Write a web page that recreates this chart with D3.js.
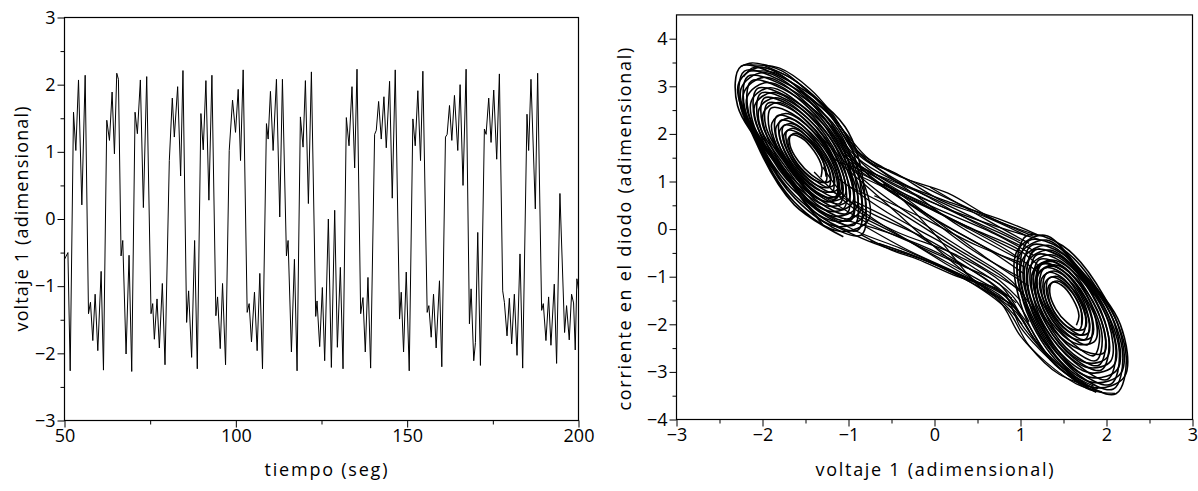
<!DOCTYPE html>
<html>
<head>
<meta charset="utf-8">
<script src="https://cdn.jsdelivr.net/npm/d3@7"></script>
<style>
  body { margin: 0; background: #fff; }
  text { font-family: "Open Sans", "Noto Sans", sans-serif; fill: #000; }
</style>
</head>
<body>
<script>
// ---- data: left panel, voltage 1 vs time (turning points)
var timeSec = [50.0, 51.0, 51.66, 52.63, 53.31, 54.09, 55.06, 56.03, 57.0, 57.58, 58.26, 58.94, 59.72, 60.69, 61.37,
  62.34, 63.12, 63.89, 64.57, 65.25, 65.74, 66.51, 67.0, 67.97, 68.84, 69.62, 70.59, 71.27, 72.14, 73.02, 73.99,
  75.25, 75.74, 76.22, 77.0, 77.68, 78.55, 79.33, 80.59, 81.46, 82.05, 83.02, 83.89, 84.57, 85.64, 86.22, 87.1,
  87.97, 88.75, 89.81, 90.49, 91.27, 92.14, 93.02, 94.18, 94.67, 95.45, 96.12, 97.0, 98.07, 99.04, 99.91, 100.69,
  101.37, 102.14, 103.31, 103.89, 104.57, 105.44, 106.22, 107.0, 107.78, 108.94, 109.43, 110.1, 110.88, 111.85,
  112.82, 113.6, 114.77, 115.25, 116.22, 117.1, 117.87, 118.84, 119.62, 120.3, 121.17, 122.05, 123.31, 123.7,
  124.47, 125.25, 125.93, 127.0, 127.88, 128.85, 129.63, 130.5, 131.28, 132.25, 133.03, 133.9, 134.68, 135.36,
  136.43, 137.1, 137.78, 138.56, 139.34, 140.5, 140.99, 141.67, 142.44, 143.22, 143.9, 144.87, 145.65, 146.52,
  147.78, 148.27, 148.95, 149.73, 150.6, 151.67, 152.35, 153.12, 153.9, 154.58, 155.84, 156.33, 157.01, 157.69,
  158.46, 159.43, 160.11, 161.18, 161.67, 162.35, 163.03, 163.8, 164.77, 165.45, 166.3, 167.2, 168.17, 168.66,
  169.43, 169.92, 170.6, 171.38, 172.54, 173.03, 173.8, 174.48, 175.26, 176.13, 176.91, 177.88, 178.37, 179.14,
  179.82, 180.5, 181.28, 182.06, 182.93, 183.71, 184.97, 185.45, 186.13, 187.4, 188.08, 189.24, 189.73, 190.5,
  191.28, 191.96, 192.93, 193.61, 194.58, 195.94, 196.52, 197.3, 197.98, 198.56, 199.05, 199.53, 200.0];
var volt1 = [-0.60, -0.50, -2.26, 1.59, 1.02, 2.07, 0.21, 2.14, -1.41, -1.24, -1.81, -1.12, -1.96, -0.78, -2.25,
  1.47, 1.17, 1.89, 0.97, 2.17, 2.08, -0.55, -0.32, -2.01, -0.54, -2.27, 1.59, 1.27, 2.07, 0.17, 2.12,
  -1.41, -1.26, -1.79, -1.19, -1.92, -0.96, -2.17, 0.87, 1.80, 1.22, 1.97, 0.64, 2.21, -1.54, -1.07, -2.06,
  -0.32, -2.23, 1.57, 1.03, 2.06, 0.28, 2.14, -1.44, -1.16, -1.93, -0.96, -2.17, 1.02, 1.77, 1.29, 1.93,
  0.87, 2.22, -1.39, -1.26, -1.83, -1.09, -1.96, -0.81, -2.23, 1.42, 1.19, 1.90, 1.02, 2.08,
  0.03, 2.08, -0.55, -0.32, -1.98, -0.60, -2.26, 1.52, 1.07, 2.06, 0.23, 2.19, -1.45, -1.22,
  -1.90, -1.02, -2.11, 0.00, -2.21, 0.13, -1.91, -0.72, -2.23, 1.51, 1.09, 1.97, 0.76, 2.23,
  -1.41, -1.17, -1.98, -0.87, -2.22, 1.26, 1.32, 1.75, 1.19, 1.82, 1.06, 2.05, 0.31, 2.22,
  -1.49, -1.09, -1.98, -0.79, -2.26, 1.49, 1.09, 1.91, 0.87, 2.20, -1.39, -1.29, -1.76, -1.12,
  -1.92, -0.92, -2.20, 1.22, 1.26, 1.69, 1.17, 1.84, 1.02, 2.00, 0.50, 2.23, -1.56, -1.04,
  -2.11, -1.84, -0.20, -2.18, 1.34, 1.26, 1.80, 1.14, 1.92, 0.89, 2.16, -1.07, -1.24, -1.74,
  -1.18, -1.86, -1.12, -2.03, -0.52, -2.22, 1.56, 1.02, 2.08, 0.15, 2.17, -1.36, -1.26, -1.81,
  -1.16, -1.88, -0.97, -2.15, 0.38, -1.69, -1.29, -1.80, -1.12, -1.25, -1.95, -0.89, -1.05];
var timeTicks = [50, 100, 150, 200];
var timeMinor = [75, 125, 175];
var voltTicks = [-3, -2, -1, 0, 1, 2, 3];
var voltMinor = [-2.5, -1.5, -0.5, 0.5, 1.5, 2.5];

// ---- data: right panel, voltage 1 vs diode current (orbits)
// left scroll, turn after turn, 8 points a turn
var leftScroll = [
  [-1.32,1.09],[-1.31,1.30],[-1.40,1.64],[-1.55,1.92],[-1.67,1.97],[-1.68,1.76],[-1.58,1.42],[-1.43,1.14],
  [-1.27,0.99],[-1.26,1.24],[-1.38,1.67],[-1.57,2.01],[-1.71,2.07],[-1.72,1.82],[-1.60,1.39],[-1.41,1.05],
  [-1.23,0.88],[-1.22,1.19],[-1.37,1.69],[-1.58,2.10],[-1.75,2.18],[-1.76,1.87],[-1.62,1.37],[-1.40,0.96],
  [-1.19,0.78],[-1.18,1.13],[-1.35,1.72],[-1.60,2.19],[-1.79,2.28],[-1.80,1.93],[-1.64,1.34],[-1.38,0.87],
  [-1.15,0.68],[-1.14,1.08],[-1.33,1.74],[-1.61,2.28],[-1.83,2.38],[-1.85,1.98],[-1.66,1.32],[-1.37,0.78],
  [-1.14,0.64],[-1.12,1.09],[-1.32,1.84],[-1.66,2.43],[-1.90,2.54],[-1.92,2.10],[-1.69,1.35],[-1.38,0.75],
  [-1.10,0.54],[-1.08,1.03],[-1.29,1.87],[-1.67,2.52],[-1.94,2.64],[-1.96,2.15],[-1.70,1.34],[-1.37,0.66],
  [-1.06,0.43],[-1.04,0.98],[-1.26,1.90],[-1.69,2.61],[-1.98,2.75],[-2.00,2.20],[-1.71,1.32],[-1.35,0.57],
  [-1.02,0.33],[-1.00,0.92],[-1.22,1.93],[-1.70,2.70],[-2.02,2.85],[-2.05,2.26],[-1.73,1.30],[-1.34,0.48],
  [-0.98,0.23],[-0.95,0.87],[-1.18,1.96],[-1.72,2.79],[-2.06,2.95],[-2.09,2.31],[-1.75,1.27],[-1.33,0.39],
  [-0.97,0.19],[-0.94,0.88],[-1.16,2.05],[-1.76,2.94],[-2.13,3.11],[-2.16,2.43],[-1.78,1.29],[-1.34,0.36],
  [-0.93,0.09],[-0.90,0.82],[-1.12,2.08],[-1.77,3.03],[-2.17,3.21],[-2.20,2.48],[-1.78,1.25],[-1.33,0.27],
  [-0.89,-0.02],[-0.85,0.77],[-1.08,2.12],[-1.79,3.12],[-2.21,3.32],[-2.25,2.53],[-1.77,1.22],[-1.31,0.18],
  [-0.85,-0.12],[-0.81,0.71],[-1.04,2.15],[-1.80,3.21],[-2.25,3.42],[-2.29,2.59],[-1.76,1.18],[-1.30,0.09]
];
// second pass round the left scroll (other orbits, a bit fatter)
var leftScroll2 = [
  [-1.26,1.10],[-1.30,1.44],[-1.45,1.82],[-1.62,2.01],[-1.70,1.90],[-1.66,1.56],[-1.51,1.18],[-1.34,0.99],
  [-1.21,1.02],[-1.27,1.43],[-1.45,1.89],[-1.65,2.12],[-1.75,1.98],[-1.69,1.57],[-1.51,1.11],[-1.31,0.88],
  [-1.17,0.93],[-1.23,1.42],[-1.44,1.95],[-1.68,2.22],[-1.80,2.07],[-1.73,1.58],[-1.52,1.05],[-1.28,0.78],
  [-1.12,0.85],[-1.19,1.41],[-1.44,2.02],[-1.70,2.33],[-1.84,2.15],[-1.77,1.59],[-1.52,0.98],[-1.26,0.67],
  [-1.07,0.77],[-1.16,1.40],[-1.43,2.09],[-1.73,2.43],[-1.89,2.23],[-1.80,1.61],[-1.53,0.92],[-1.23,0.57],
  [-1.09,0.80],[-1.18,1.50],[-1.49,2.27],[-1.82,2.66],[-1.99,2.44],[-1.90,1.74],[-1.60,0.97],[-1.26,0.58],
  [-1.04,0.72],[-1.14,1.49],[-1.48,2.34],[-1.85,2.76],[-2.04,2.52],[-1.94,1.75],[-1.60,0.90],[-1.23,0.48],
  [-0.99,0.64],[-1.11,1.48],[-1.47,2.40],[-1.88,2.87],[-2.09,2.60],[-1.97,1.76],[-1.61,0.84],[-1.20,0.37],
  [-0.95,0.56],[-1.07,1.47],[-1.47,2.47],[-1.91,2.97],[-2.13,2.69],[-2.01,1.77],[-1.61,0.77],[-1.17,0.27],
  [-0.90,0.47],[-1.04,1.46],[-1.46,2.54],[-1.94,3.08],[-2.18,2.77],[-2.02,1.78],[-1.62,0.70],[-1.14,0.16],
  [-0.86,0.39],[-1.00,1.44],[-1.46,2.60],[-1.97,3.19],[-2.22,2.85],[-2.04,1.80],[-1.62,0.64],[-1.12,0.05],
  [-0.81,0.31],[-0.96,1.43],[-1.45,2.67],[-1.99,3.29],[-2.25,2.95],[-2.06,1.82],[-1.63,0.57],[-1.09,-0.05],
  [-0.76,0.22],[-0.93,1.42],[-1.45,2.74],[-2.02,3.40],[-2.28,3.05],[-2.08,1.84],[-1.63,0.51],[-1.06,-0.16]
];
// right scroll, same way
var rightScroll = [
  [1.65,-2.02],[1.68,-1.82],[1.61,-1.47],[1.48,-1.18],[1.37,-1.12],[1.34,-1.33],[1.41,-1.68],[1.54,-1.96],
  [1.68,-2.12],[1.72,-1.87],[1.64,-1.44],[1.48,-1.09],[1.34,-1.02],[1.30,-1.27],[1.38,-1.70],[1.54,-2.05],
  [1.71,-2.22],[1.76,-1.92],[1.66,-1.42],[1.47,-1.00],[1.31,-0.92],[1.26,-1.22],[1.36,-1.72],[1.55,-2.14],
  [1.75,-2.32],[1.80,-1.98],[1.68,-1.40],[1.47,-0.91],[1.28,-0.82],[1.22,-1.16],[1.34,-1.75],[1.56,-2.23],
  [1.78,-2.43],[1.84,-2.03],[1.71,-1.37],[1.46,-0.83],[1.24,-0.72],[1.18,-1.11],[1.32,-1.77],[1.56,-2.32],
  [1.85,-2.66],[1.92,-2.22],[1.77,-1.48],[1.49,-0.87],[1.25,-0.74],[1.19,-1.18],[1.33,-1.92],[1.61,-2.53],
  [1.88,-2.76],[1.95,-2.27],[1.79,-1.46],[1.49,-0.78],[1.22,-0.64],[1.15,-1.13],[1.31,-1.95],[1.61,-2.62],
  [1.91,-2.86],[1.99,-2.33],[1.81,-1.43],[1.48,-0.69],[1.19,-0.54],[1.11,-1.07],[1.29,-1.97],[1.62,-2.71],
  [1.94,-2.96],[2.03,-2.38],[1.84,-1.41],[1.48,-0.60],[1.16,-0.44],[1.07,-1.02],[1.26,-1.99],[1.63,-2.80],
  [2.01,-3.16],[2.11,-2.54],[1.90,-1.48],[1.51,-0.62],[1.17,-0.44],[1.07,-1.06],[1.28,-2.12],[1.67,-2.99],
  [2.05,-3.26],[2.15,-2.59],[1.92,-1.46],[1.50,-0.53],[1.13,-0.34],[1.03,-1.01],[1.26,-2.14],[1.68,-3.07],
  [2.08,-3.36],[2.19,-2.65],[1.95,-1.44],[1.50,-0.44],[1.10,-0.24],[0.99,-0.95],[1.23,-2.16],[1.68,-3.16],
  [2.11,-3.46],[2.23,-2.70],[1.97,-1.41],[1.49,-0.35],[1.07,-0.14],[0.96,-0.90],[1.21,-2.19],[1.69,-3.25]
];
// second pass round the right scroll
var rightScroll2 = [
  [1.71,-2.01],[1.70,-1.67],[1.58,-1.29],[1.43,-1.09],[1.33,-1.19],[1.34,-1.53],[1.46,-1.91],[1.61,-2.11],
  [1.75,-2.09],[1.74,-1.68],[1.59,-1.22],[1.41,-0.99],[1.29,-1.11],[1.30,-1.52],[1.45,-1.98],[1.63,-2.21],
  [1.79,-2.18],[1.77,-1.70],[1.61,-1.16],[1.39,-0.88],[1.25,-1.03],[1.27,-1.51],[1.43,-2.04],[1.65,-2.32],
  [1.83,-2.26],[1.81,-1.71],[1.62,-1.10],[1.37,-0.78],[1.21,-0.94],[1.23,-1.49],[1.42,-2.10],[1.67,-2.42],
  [1.87,-2.34],[1.85,-1.72],[1.63,-1.03],[1.35,-0.68],[1.17,-0.86],[1.19,-1.48],[1.41,-2.17],[1.69,-2.53],
  [1.97,-2.60],[1.94,-1.92],[1.70,-1.15],[1.39,-0.75],[1.19,-0.96],[1.22,-1.64],[1.46,-2.41],[1.77,-2.81],
  [2.01,-2.69],[1.98,-1.93],[1.72,-1.09],[1.37,-0.65],[1.15,-0.87],[1.18,-1.63],[1.45,-2.47],[1.79,-2.91],
  [2.05,-2.77],[2.02,-1.94],[1.70,-1.00],[1.35,-0.54],[1.11,-0.79],[1.14,-1.62],[1.43,-2.54],[1.81,-3.02],
  [2.09,-2.85],[2.05,-1.96],[1.70,-0.96],[1.34,-0.44],[1.07,-0.71],[1.11,-1.60],[1.42,-2.60],[1.83,-3.12],
  [2.13,-2.94],[2.09,-1.97],[1.70,-0.91],[1.32,-0.34],[1.03,-0.62],[1.07,-1.59],[1.41,-2.67],[1.84,-3.22],
  [2.17,-3.02],[2.13,-1.99],[1.69,-0.86],[1.30,-0.23],[0.99,-0.54],[1.04,-1.57],[1.40,-2.73],[1.86,-3.33],
  [2.21,-3.10],[2.16,-2.00],[1.68,-0.82],[1.28,-0.13],[0.96,-0.46],[1.00,-1.56],[1.38,-2.79],[1.88,-3.43]
];
// jumps from one scroll to the other
var bridges = [
  [[1.07,-0.14],[0.60,0.25],[0.07,0.61],[-0.48,1.20],[-0.71,1.36],[-0.95,1.72],[-1.25,2.48],[-1.48,2.90],[-1.77,3.32],[-2.12,3.49],[-2.25,3.42]],
  [[1.00,-0.35],[0.45,0.15],[-0.10,0.70],[-0.55,1.15],[-0.85,1.55],[-1.15,2.30],[-1.40,2.80],[-1.75,3.25],[-2.10,3.40],[-2.22,3.20]],
  [[0.95,-0.60],[0.30,0.05],[-0.25,0.75],[-0.62,1.22],[-0.92,1.62],[-1.20,2.35],[-1.50,2.85],[-1.85,3.28],[-2.15,3.32]],
  [[1.18,-0.12],[0.70,0.20],[0.15,0.76],[-0.40,1.10],[-0.75,1.45],[-1.05,2.05],[-1.35,2.70],[-1.65,3.15],[-2.00,3.45]],
  [[1.20,-0.12],[0.80,0.18],[0.20,0.55],[-0.50,1.05],[-0.90,1.50],[-1.20,2.20]],
  [[1.05,-0.80],[0.40,-0.20],[-0.30,0.55],[-0.75,1.10],[-1.10,1.90]],
  [[-0.05,0.88],[0.60,0.20],[1.10,-0.30]],
  [[1.15,-0.15],[0.50,0.35],[-0.20,0.95],[-0.60,1.30],[-0.90,1.65],[-1.20,2.45],[-1.45,2.95],[-1.80,3.38],[-2.15,3.45]],
  [[1.22,-0.22],[0.65,0.10],[0.05,0.50],[-0.55,1.00],[-0.85,1.40],[-1.10,2.10]],
  [[0.98,-1.00],[0.45,-0.45],[-0.15,0.35],[-0.65,0.95],[-0.98,1.40],[-1.25,2.10]],
  [[1.10,-1.20],[0.60,-0.60],[0.00,0.20],[-0.45,0.80],[-0.80,1.25],[-1.05,1.60]],
  [[1.00,-0.50],[0.55,-0.10],[0.00,0.40],[-0.50,0.90],[-0.95,1.45],[-1.25,2.25],[-1.55,2.90]],
  [[0.90,-1.45],[0.35,-0.90],[-0.20,-0.35],[-0.70,0.20],[-1.05,0.70],[-1.30,1.30]],
  [[-0.85,-0.12],[-0.50,-0.44],[-0.20,-0.63],[0.27,-1.00],[0.80,-1.34],[1.00,-2.06],[1.23,-2.54],[1.58,-3.11],[1.81,-3.38],[2.10,-3.45]],
  [[-1.25,1.62],[-0.60,0.60],[0.07,-0.48],[0.55,-1.20],[0.95,-1.75],[1.20,-2.40],[1.55,-3.00],[1.85,-3.30]],
  [[-1.10,1.40],[-0.63,1.03],[0.00,-0.10],[0.53,-1.22],[0.90,-1.60],[1.15,-2.30]],
  [[-0.95,0.60],[-0.40,0.10],[0.20,-0.60],[0.70,-1.20],[1.05,-1.90],[1.30,-2.60],[1.65,-3.15]],
  [[-0.90,0.30],[-0.35,-0.20],[0.15,-0.75],[0.65,-1.30],[1.02,-2.00]],
  [[-1.00,0.90],[-0.45,0.40],[0.25,-0.40],[0.75,-0.95],[1.05,-1.40]],
  [[-0.80,0.05],[-0.30,-0.45],[0.30,-0.95],[0.85,-1.45],[1.10,-2.15],[1.40,-2.85],[1.75,-3.30]],
  [[-1.30,1.90],[-0.80,1.00],[-0.20,0.20],[0.40,-0.50],[0.90,-1.10],[1.15,-1.70]],
  [[-0.70,0.70],[-0.10,0.20],[0.50,-0.35],[1.00,-0.70]],
  [[-1.15,1.10],[-0.55,0.35],[0.10,-0.30],[0.60,-0.85],[0.98,-1.25]],
  [[-0.75,-0.25],[-0.25,-0.55],[0.35,-1.05],[0.75,-1.50],[1.00,-2.25],[1.30,-2.80],[1.65,-3.25],[1.95,-3.42]],
  [[-0.65,-0.30],[-0.05,-0.70],[0.45,-1.15],[0.85,-1.70],[1.10,-2.45],[1.45,-3.05],[1.90,-3.35]],
  [[-1.05,0.20],[-0.50,-0.10],[0.10,-0.55],[0.60,-1.05],[0.95,-1.55]],
  [[-1.20,0.80],[-0.70,0.30],[-0.10,-0.20],[0.45,-0.80],[0.88,-1.35],[1.10,-1.95]],
  [[-1.00,1.30],[-0.40,0.75],[0.30,0.10],[0.85,-0.45],[1.20,-0.90]],
  [[-0.85,1.10],[-0.20,0.55],[0.45,0.00],[0.95,-0.40],[1.20,-0.75]],
  [[-0.60,0.95],[0.00,0.45],[0.70,-0.10],[1.15,-0.55]],
  [[-1.35,0.40],[-0.90,-0.05],[-0.40,-0.40],[0.10,-0.80],[0.60,-1.25],[0.95,-1.65]],
  [[-1.20,0.10],[-0.70,-0.30],[-0.20,-0.60],[0.35,-1.00],[0.80,-1.45],[1.05,-2.10],[1.35,-2.75]],
  [[-1.40,1.20],[-0.95,0.45],[-0.45,-0.05],[0.20,-0.50],[0.70,-1.00],[1.00,-1.50]],
  [[-1.05,1.55],[-0.55,0.85],[0.05,0.15],[0.60,-0.40],[1.05,-0.95]],
  [[-0.90,1.35],[-0.30,0.80],[0.35,0.25],[0.90,-0.20],[1.15,-0.45]],
  [[-0.75,1.20],[-0.15,0.75],[0.50,0.20],[1.00,-0.25]],
  [[-1.30,0.70],[-0.80,0.15],[-0.25,-0.30],[0.30,-0.75],[0.75,-1.15],[1.00,-1.80]]
];
var phaseXTicks = [-3, -2, -1, 0, 1, 2, 3];
var phaseXMinor = [-2.5, -1.5, -0.5, 0.5, 1.5, 2.5];
var phaseYTicks = [-4, -3, -2, -1, 0, 1, 2, 3, 4];
var phaseYMinor = [-3.5, -2.5, -1.5, -0.5, 0.5, 1.5, 2.5, 3.5];

var labelSize = "18px";

var svg = d3.select("body")
  .append("svg")
    .attr("width", 1198)
    .attr("height", 491);

// draws major + minor ticks of one axis, no domain line (the frame does that)
function drawAxis(g, axisFn, scale, major, minor, majorLen, minorLen) {
  g.append("g").call(axisFn(scale).tickValues(minor).tickSize(minorLen).tickSizeOuter(0).tickFormat(""));
  g.append("g").call(axisFn(scale).tickValues(major).tickSize(majorLen).tickSizeOuter(0).tickPadding(2).tickFormat(d3.format("d")));
  g.selectAll(".domain").remove();
  g.selectAll("line").attr("stroke", "#000");
  g.selectAll("text").style("font-size", labelSize).style("font-family", "'Open Sans', sans-serif");
}

// axis title, stretched to the width it has in the picture
function axisTitle(g, x, y, rotate, width, label) {
  g.append("text")
    .attr("transform", "translate(" + x + "," + y + ")" + (rotate ? " rotate(-90)" : ""))
    .attr("text-anchor", "middle")
    .attr("dy", "0.35em")
    .attr("textLength", width)
    .attr("lengthAdjust", "spacing")
    .style("font-size", labelSize)
    .text(label);
}

// ================= left panel
var xTime = d3.scaleLinear().domain([50, 200]).range([64.5, 578.5]);
var yVolt = d3.scaleLinear().domain([-3, 3]).range([420.5, 17.5]);

var left = svg.append("g");

left.append("path")
  .datum(d3.range(timeSec.length))
  .attr("fill", "none")
  .attr("stroke", "#000")
  .attr("stroke-width", 1)
  .attr("d", d3.line()
      .x(function(i) { return xTime(timeSec[i]); })
      .y(function(i) { return yVolt(volt1[i]); }));

left.append("rect")
  .attr("x", xTime(50)).attr("y", yVolt(3))
  .attr("width", xTime(200) - xTime(50)).attr("height", yVolt(-3) - yVolt(3))
  .attr("fill", "none").attr("stroke", "#000").attr("stroke-width", 1.2);

drawAxis(left.append("g").attr("transform", "translate(0," + yVolt(-3) + ")"),
  d3.axisBottom, xTime, timeTicks, timeMinor, 7, 4);
drawAxis(left.append("g").attr("transform", "translate(" + xTime(50) + ",0)"),
  d3.axisLeft, yVolt, voltTicks, voltMinor, 7, 4);

axisTitle(left, 22, yVolt(0), true, 225, "voltaje 1 (adimensional)");
axisTitle(left, 326, 470, false, 123, "tiempo (seg)");

// ================= right panel
var xPhase = d3.scaleLinear().domain([-3, 3]).range([676.5, 1192.5]);
var yPhase = d3.scaleLinear().domain([-4, 4.5]).range([419.5, 14.9]);

var right = svg.append("g");

var phaseLine = d3.line()
  .x(function(d) { return xPhase(d[0]); })
  .y(function(d) { return yPhase(d[1]); })
  .curve(d3.curveCatmullRom.alpha(0.5));

// the two scrolls, drawn a bit heavier since the picture is nearly solid there
right.append("g")
  .selectAll("path")
  .data([leftScroll, leftScroll2, rightScroll, rightScroll2])
  .enter()
  .append("path")
    .attr("fill", "none")
    .attr("stroke", "#000")
    .attr("stroke-width", 1.6)
    .attr("d", phaseLine);

right.append("g")
  .selectAll("path")
  .data(bridges)
  .enter()
  .append("path")
    .attr("fill", "none")
    .attr("stroke", "#000")
    .attr("stroke-width", 1.3)
    .attr("d", phaseLine);

right.append("rect")
  .attr("x", xPhase(-3)).attr("y", yPhase(4.5))
  .attr("width", xPhase(3) - xPhase(-3)).attr("height", yPhase(-4) - yPhase(4.5))
  .attr("fill", "none").attr("stroke", "#000").attr("stroke-width", 1.2);

drawAxis(right.append("g").attr("transform", "translate(0," + yPhase(-4) + ")"),
  d3.axisBottom, xPhase, phaseXTicks, phaseXMinor, 7, 4);
drawAxis(right.append("g").attr("transform", "translate(" + xPhase(-3) + ",0)"),
  d3.axisLeft, yPhase, phaseYTicks, phaseYMinor, 7, 4);

axisTitle(right, 625, yPhase(0), true, 363, "corriente en el diodo (adimensional)");
axisTitle(right, xPhase(0), 470, false, 238, "voltaje 1 (adimensional)");
</script>
</body>
</html>
